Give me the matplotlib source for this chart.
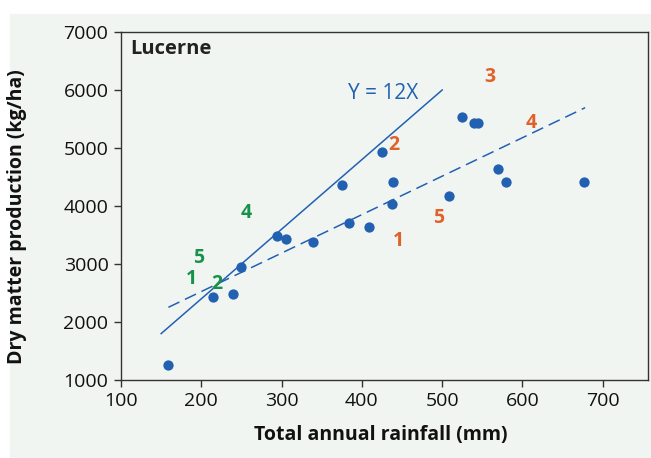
import matplotlib.pyplot as plt
from matplotlib.patches import Rectangle

plt.rcParams['font.family'] = ['Open Sans', 'DejaVu Sans']

# rainfall (mm) vs dry matter (kg/ha)
rain = [159, 214.6, 239.5, 249.4, 294, 305, 339.5, 384.3, 409.2, 374.8,
        424.7, 439.1, 437.1, 508.8, 524.3, 539.6, 544.2, 569.1, 579.5, 677]
dm = [1262, 2426, 2488, 2948, 3488, 3431, 3385, 3712, 3638, 4355,
      4926, 4419, 4029, 4178, 5540, 5425, 5425, 4638, 4414, 4414]

# Y = 12X line and dashed regression line
line_x = [150, 500]
line_y = [1800, 6000]
dash_x = [159, 678]
dash_y = [2253, 5695]

# site labels
green_lab = ['4', '5', '1', '2']
green_x = [256.5, 196.8, 188, 219]
green_y = [3884, 3108, 2736, 2650]
orange_lab = ['3', '2', '4', '5', '1']
orange_x = [560, 440.4, 611.4, 495, 445.4]
orange_y = [6229, 5052, 5436, 3788, 3402]

blue = '#2261b2'
green = '#17924a'
orange = '#e0622a'
bg = '#f1f5f2'

fig = plt.figure(figsize=(6.51, 4.58), dpi=100, facecolor='white')
fig.patches.append(Rectangle((10 / 651, 0), 1, (458 - 14) / 458,
                             transform=fig.transFigure, color=bg, zorder=-1))
ax = fig.add_axes([121 / 651, (458 - 380) / 458, 527 / 651, 348 / 458])
ax.set_facecolor(bg)

ax.plot(line_x, line_y, color=blue, lw=1.1)
ax.plot(dash_x, dash_y, color=blue, lw=1.1, linestyle=(0, (8, 4)))
ax.scatter(rain, dm, s=55, color=blue, zorder=3, linewidths=0)

for t, x, y in zip(green_lab, green_x, green_y):
    ax.text(x, y, t, color=green, fontsize=14, fontweight='bold', ha='center', va='center')
for t, x, y in zip(orange_lab, orange_x, orange_y):
    ax.text(x, y, t, color=orange, fontsize=14, fontweight='bold', ha='center', va='center')

ax.text(426.7, 5943, 'Y = 12X', color=blue, fontsize=15, ha='center', va='center')
ax.text(0.017, 0.95, 'Lucerne', transform=ax.transAxes, fontsize=14.5,
        fontweight='bold', color='#222222', ha='left', va='center')

ax.set_xlim(100, 756.3)
ax.set_ylim(1000, 7000)
ax.set_xticks([100, 200, 300, 400, 500, 600, 700])
ax.set_yticks([1000, 2000, 3000, 4000, 5000, 6000, 7000])
ax.tick_params(direction='out', length=5, width=1, color='#333333',
               labelsize=14, pad=4, labelcolor='#111111')
for s in ax.spines.values():
    s.set_color('#333333')
    s.set_linewidth(1)

ax.set_xlabel('Total annual rainfall (mm)', fontsize=14, fontweight='bold',
              color='#111111')
ax.xaxis.set_label_coords(0.492, -0.13)
ax.set_ylabel('Dry matter production (kg/ha)', fontsize=14, fontweight='bold',
              color='#111111')
ax.yaxis.set_label_coords(-0.178, 0.47)

fig.savefig('out.png', dpi=100, facecolor=fig.get_facecolor())
